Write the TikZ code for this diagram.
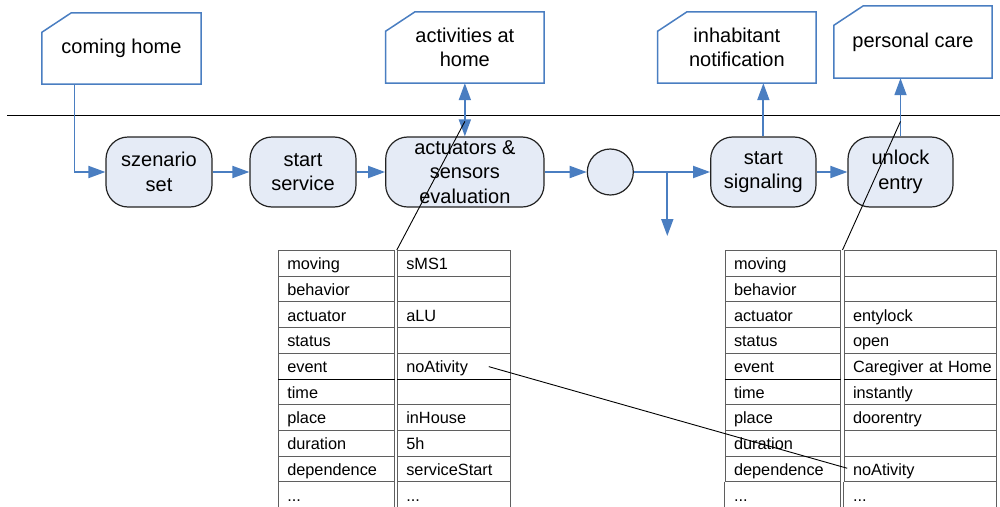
\documentclass[tikz,border=0pt]{standalone}
\usepackage{fontspec}
\setmainfont{Liberation Sans}
\usetikzlibrary{arrows.meta}
\definecolor{flowblue}{RGB}{74,126,193}
\definecolor{boxfill}{RGB}{229,235,246}
\definecolor{gridgray}{RGB}{95,95,95}
\definecolor{edgeblack}{RGB}{35,35,35}

% outline of a note box with its top-left corner cut off
\newcommand\notecut[1]{%
  \draw[noteline] ([yshift=-19.5pt]#1.north west) -- ([xshift=29.5pt]#1.north west)
    -- (#1.north east) -- (#1.south east) -- (#1.south west) -- cycle;}
% table geometry: top edge and row pitch
\newcommand\tabtop{250.5}
\newcommand\rowh{25.7}

\begin{document}
\begin{tikzpicture}[x=1pt,y=-1pt,
  bigfont/.style={font=\fontsize{20pt}{24.5pt}\selectfont},
  note/.style={bigfont,inner sep=0pt,align=center,minimum height=71pt},
  noteline/.style={draw=flowblue,line width=1.5pt},
  task/.style={bigfont,inner sep=0pt,align=center,draw=edgeblack,line width=1.2pt,
    fill=boxfill,rounded corners=22pt,minimum height=70pt},
  % extra headroom so two-line labels with descenders sit a little lower
  lowtext/.style={execute at begin node={\rule{0pt}{17.3pt}}},
  junction/.style={circle,draw=edgeblack,line width=1.2pt,fill=boxfill,minimum size=46pt,inner sep=0pt},
  flow/.style={draw=flowblue,line width=1.8pt,-{Triangle[length=17pt,width=12pt]}},
  flowboth/.style={draw=flowblue,line width=1.8pt,{Triangle[length=17pt,width=12pt]}-{Triangle[length=17pt,width=12pt]}},
  cell/.style={font=\fontsize{16.3pt}{19pt}\selectfont,inner ysep=0pt,inner xsep=9pt,
    align=left,text height=16.2pt,text depth=3.4pt,minimum height=\rowh pt},
  gridcell/.style={cell,draw=gridgray,line width=1pt},
  gridline/.style={draw=gridgray,line width=1pt},
  eventrule/.style={draw=black,line width=1.9pt},
  pointer/.style={draw=black,line width=0.9pt}]

\clip (0,0) rectangle (1000,506);

% swimlane separator
\coordinate (laneL) at (7,115);
\coordinate (laneR) at (1000,115);
\draw[line width=1pt] (laneL) -- (laneR);

% notes above the lane
\node[note,minimum width=159pt] (home) at (121.5,48.5) {coming home};
\node[note,minimum width=158.3pt] (act) at (464.85,47.5) {activities at\\home};
\node[note,minimum width=158.3pt] (notify) at (736.85,47.5) {inhabitant\\notification};
\node[note,minimum width=158pt,minimum height=72pt] (care) at (913,42) {personal care};
\notecut{home}
\notecut{act}
\notecut{notify}
\notecut{care}

% process steps
\node[task,minimum width=106pt] (szen) at (159,172) {szenario\\set};
\node[task,minimum width=106pt] (service) at (303,172) {start\\service};
\node[task,minimum width=158.3pt] (eval) at (464.85,172) {actuators \&\\sensors\\evaluation};
\node[junction] (junc) at (610.3,172) {};
\node[task,lowtext,minimum width=105.3pt] (signal) at (763.35,172) {start\\signaling};
\node[task,lowtext,minimum width=105pt] (unlock) at (900.5,172) {unlock\\entry};

% flow connectors
\draw[flow] ([xshift=32.7pt]home.south west) |- (szen.west);
\draw[flow] (szen.east) -- (service.west);
\draw[flow] (service.east) -- (eval.west);
\draw[flow] (eval.east) -- (junc.west);
\draw[flow] (junc.east) -- (signal.west);
\coordinate (split) at (667.3,172);
\coordinate (down) at (667.3,236);
\draw[flow] (split) -- (down);
\draw[flow] (signal.east) -- (unlock.west);
\draw[flowboth] (eval.north) -- (act.south);
\draw[flow] (signal.north) -- (signal.north |- notify.south);
\draw[flow] (unlock.north) -- (unlock.north |- care.south);

% attribute tables
\foreach \k/\v [count=\i] in {moving/sMS1,behavior/,actuator/aLU,status/,event/noAtivity,
    time/,place/inHouse,duration/5h,dependence/serviceStart}{
  \node[gridcell,minimum width=116pt,text width=98pt] (lk\i) at (336.3,{\tabtop+(\i-0.5)*\rowh}) {\mbox{\k}};
  \node[gridcell,minimum width=113.4pt,text width=95.4pt] (lv\i) at (454,{\tabtop+(\i-0.5)*\rowh}) {\mbox{\v}};
}
\node[cell,minimum width=116pt,text width=98pt] (lk10) at (336.3,{\tabtop+9.5*\rowh}) {...};
\node[cell,minimum width=113.4pt,text width=95.4pt] (lv10) at (454,{\tabtop+9.5*\rowh}) {...};

\foreach \k/\v [count=\i] in {moving/,behavior/,actuator/entylock,status/open,event/Caregiver at Home,
    time/instantly,place/doorentry,duration/,dependence/noAtivity}{
  \node[gridcell,minimum width=115pt,text width=97pt] (rk\i) at (782.5,{\tabtop+(\i-0.5)*\rowh}) {\mbox{\k}};
  \node[gridcell,minimum width=152.7pt,text width=134.7pt] (rv\i) at (920.35,{\tabtop+(\i-0.5)*\rowh}) {\mbox{\v}};
}
\node[cell,minimum width=115pt,text width=97pt] (rk10) at (782.5,{\tabtop+9.5*\rowh}) {...};
\node[cell,minimum width=152.7pt,text width=134.7pt] (rv10) at (920.35,{\tabtop+9.5*\rowh}) {...};

% open-ended last rows
\foreach \c in {lk10,lv10,rk10,rv10}{
  \draw[gridline] (\c.north west) -- ([yshift=-15pt]\c.south west);
  \draw[gridline] (\c.north east) -- ([yshift=-15pt]\c.south east);
}

% heavier rule below the event row
\foreach \c in {lk5,lv5,rk5,rv5}{
  \draw[eventrule] (\c.south west) -- (\c.south east);
}

% pointers from steps to their tables, and the dependence link
\draw[pointer] ([yshift=15pt]eval.north) -- (lv1.north west);
\draw[pointer] ([yshift=15pt]unlock.north) -- ([xshift=-1pt]rv1.north west);
\draw[pointer] ([xshift=92pt,yshift=-0.5pt]lv5.west) -- ([xshift=3.7pt,yshift=0.7pt]rv9.west);
\end{tikzpicture}
\end{document}
